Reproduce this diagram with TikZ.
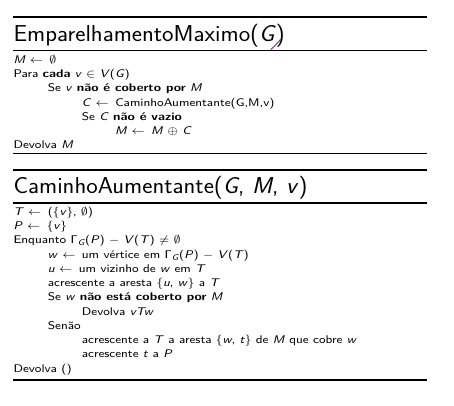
\documentclass[tikz,border=0pt]{standalone}
\usepackage{amsmath}
\usepackage{graphicx}
\renewcommand{\familydefault}{\sfdefault}
\newcommand{\mv}[1]{\textit{#1}}
\newcommand{\la}{$\leftarrow$\,}
\newcommand{\es}{$\emptyset$}
\newcommand{\bd}[1]{\scalebox{1.07}[1]{\bfseries #1}}
\newcommand{\Gam}{$\mathsf{\Gamma}_{\textit{G}}$}
\newcommand{\bodytxt}[1]{\scalebox{1.55}[1.39]{\fontsize{8}{10}\selectfont #1}}
\newcommand{\titletxt}[1]{\scalebox{1.06}[1]{\fontsize{23}{27}\selectfont #1}}
\tikzset{
  rul/.style={line width=1.4pt},
  ttl/.style={anchor=base west, inner sep=0pt, font=\sffamily},
  ln/.style={anchor=base west, inner sep=0pt, font=\sffamily},
  pen/.style={draw=violet!70!gray, line width=0.9pt, line cap=round}
}
\begin{document}
\begin{tikzpicture}[x=1pt,y=-1pt]
\useasboundingbox (0,0) rectangle (454,405);
\fill[white] (0,0) rectangle (454,405);
% rules
\coordinate (r1a) at (13,17);  \coordinate (r1b) at (427,17);
\coordinate (r2a) at (13,50.7);\coordinate (r2b) at (427,50.7);
\coordinate (r3a) at (13,153.5);\coordinate (r3b) at (427,153.5);
\coordinate (r4a) at (13,170); \coordinate (r4b) at (427,170);
\coordinate (r5a) at (13,203); \coordinate (r5b) at (427,203);
\coordinate (r6a) at (13,380); \coordinate (r6b) at (427,380);
\draw[rul] (r1a) -- (r1b);
\draw[rul] (r2a) -- (r2b);
\draw[rul] (r3a) -- (r3b);
\draw[rul] (r4a) -- (r4b);
\draw[rul] (r5a) -- (r5b);
\draw[rul] (r6a) -- (r6b);
% block 1
\node[ttl] (t1) at (13.3,41) {\titletxt{EmparelhamentoMaximo(\mv{G})}};
\node[ln] (a1) at (13.3,63) {\bodytxt{\mv{M} \la\ \es}};
\node[ln] (a2) at (13.3,77.3) {\bodytxt{Para \bd{cada} \mv{v} $\in$ \mv{V}(\mv{G})}};
\node[ln] (a3) at (47.7,91.6) {\bodytxt{Se \mv{v} \bd{não é coberto por} \mv{M}}};
\node[ln] (a4) at (81.7,106) {\bodytxt{\mv{C} \la\ CaminhoAumentante(G,M,v)}};
\node[ln] (a5) at (81.7,120.2) {\bodytxt{Se \mv{C} \bd{não é vazio}}};
\node[ln] (a6) at (115,134.5) {\bodytxt{\mv{M} \la\ \mv{M} $\oplus$ \mv{C}}};
\node[ln] (a7) at (13.3,148.5) {\bodytxt{Devolva \mv{M}}};
\coordinate (p1) at (271,49.5);
\coordinate (p2) at (280.5,39.5);
\draw[pen] (p1) .. controls (274,46.5) and (277.5,43) .. (p2);
% block 2
\node[ttl] (t2) at (13.3,193.3) {\titletxt{CaminhoAumentante(\mv{G}, \mv{M}, \mv{v})}};
\node[ln] (b1) at (13.3,215) {\bodytxt{\mv{T} \la\ (\{\mv{v}\}, \es)}};
\node[ln] (b2) at (13.3,229.3) {\bodytxt{\mv{P} \la\ \{\mv{v}\}}};
\node[ln] (b3) at (13.3,243.6) {\bodytxt{Enquanto \Gam(\mv{P}) $-$ \mv{V}(\mv{T}) $\neq$ \es}};
\node[ln] (b4) at (47.7,258) {\bodytxt{\mv{w} \la\ um vértice em \Gam(\mv{P}) $-$ \mv{V}(\mv{T})}};
\node[ln] (b5) at (47.7,272.2) {\bodytxt{\mv{u} \la\ um vizinho de \mv{w} em \mv{T}}};
\node[ln] (b6) at (47.7,286.5) {\bodytxt{acrescente a aresta \{\mv{u}, \mv{w}\} a \mv{T}}};
\node[ln] (b7) at (47.7,300.7) {\bodytxt{Se \mv{w} \bd{não está coberto por} \mv{M}}};
\node[ln] (b8) at (81.7,315) {\bodytxt{Devolva \mv{vTw}}};
\node[ln] (b9) at (47.7,329.2) {\bodytxt{Senão}};
\node[ln] (b10) at (81.7,343.5) {\bodytxt{acrescente a \mv{T} a aresta \{\mv{w}, \mv{t}\} de \mv{M} que cobre \mv{w}}};
\node[ln] (b11) at (81.7,357.7) {\bodytxt{acrescente \mv{t} a \mv{P}}};
\node[ln] (b12) at (13.3,372) {\bodytxt{Devolva ()}};
\end{tikzpicture}
\end{document}
